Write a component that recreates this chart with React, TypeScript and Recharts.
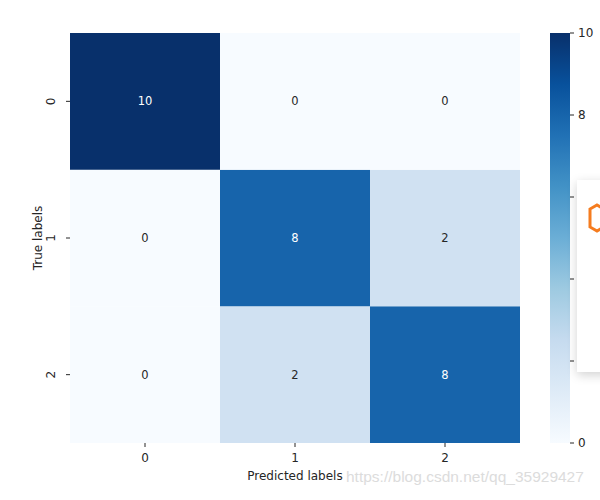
import { BarChart, Bar, XAxis, YAxis, Cell, LabelList } from 'recharts';

// confusion matrix, rows = true label, cols = predicted label
const predictedLabels = ['0', '1', '2'];
const trueLabels = ['0', '1', '2'];
const row0 = [10, 0, 0];
const row1 = [0, 8, 2];
const row2 = [0, 2, 8];
const matrix = [row0, row1, row2];
const colorbarTicks = [0, 2, 4, 6, 8, 10];
const vmax = 10;

// matplotlib "Blues" colormap stops
const BLUES = ['#f7fbff', '#deebf7', '#c6dbef', '#9ecae1', '#6baed6', '#4292c6', '#2171b5', '#08519c', '#08306b'];

const hex = (h: string) => [1, 3, 5].map(i => parseInt(h.slice(i, i + 2), 16));

function blues(t: number) {
  const p = Math.max(0, Math.min(1, t)) * (BLUES.length - 1);
  const i = Math.min(Math.floor(p), BLUES.length - 2);
  const f = p - i;
  const a = hex(BLUES[i]);
  const b = hex(BLUES[i + 1]);
  const c = a.map((v, k) => Math.round(v + (b[k] - v) * f));
  return `rgb(${c[0]},${c[1]},${c[2]})`;
}

const FONT = '"DejaVu Sans", sans-serif';
const TEXT = '#262626';
const FS = 12;

// one stacked unit bar per cell; first stacked key sits at the bottom (true label 2)
const chartData = predictedLabels.map((p, c) => ({
  pred: p,
  r2: 1,
  r1: 1,
  r0: 1,
  v0: matrix[0][c],
  v1: matrix[1][c],
  v2: matrix[2][c],
}));

const rowKeys = [
  { key: 'r2', row: 2 },
  { key: 'r1', row: 1 },
  { key: 'r0', row: 0 },
];

const yTickValue = (v: number) => trueLabels[2 - Math.floor(v)];

const YTick = ({ x, y, payload }: any) => (
  <text
    x={x}
    y={y}
    transform={`rotate(-90 ${x} ${y})`}
    textAnchor="middle"
    fontSize={FS}
    fontFamily={FONT}
    fill={TEXT}
  >
    {yTickValue(payload.value)}
  </text>
);

const YLabel = ({ viewBox }: any) => {
  const x = viewBox.x + 22;
  const y = viewBox.y + viewBox.height / 2;
  return (
    <text x={x} y={y} transform={`rotate(-90 ${x} ${y})`} textAnchor="middle" fontSize={FS} fontFamily={FONT} fill={TEXT}>
      True labels
    </text>
  );
};

const XLabel = ({ viewBox }: any) => (
  <text x={viewBox.x + viewBox.width / 2} y={viewBox.y + 37} textAnchor="middle" fontSize={FS} fontFamily={FONT} fill={TEXT}>
    Predicted labels
  </text>
);

const makeCellLabel = (row: number) => (props: any) => {
  const { x, y, width, height, index } = props;
  const v = matrix[row][index];
  return (
    <text
      x={x + width / 2}
      y={y + height / 2}
      dy={4}
      textAnchor="middle"
      fontSize={11.5}
      fontFamily={FONT}
      fill={v / vmax > 0.5 ? '#ffffff' : TEXT}
    >
      {v}
    </text>
  );
};

export default function App() {
  return (
    <div style={{ position: 'absolute', left: 0, top: 0, width: 600, height: 500, background: '#fff', overflow: 'hidden' }}>
      <div style={{ position: 'absolute', left: 0, top: 0 }}>
        <BarChart
          width={520}
          height={500}
          data={chartData}
          margin={{ top: 33, right: 0, left: 20, bottom: 7 }}
          barCategoryGap={0}
        >
          <XAxis
            dataKey="pred"
            height={50}
            axisLine={false}
            tickSize={4}
            tickMargin={6}
            tickLine={{ stroke: TEXT }}
            tick={{ fontSize: FS, fontFamily: FONT, fill: TEXT }}
            label={<XLabel />}
          />
          <YAxis
            type="number"
            domain={[0, 3]}
            ticks={[0.5, 1.5, 2.5]}
            width={50}
            axisLine={false}
            tickSize={4}
            tickMargin={11}
            tickLine={{ stroke: TEXT }}
            tick={<YTick />}
            label={<YLabel />}
          />
          {rowKeys.map(({ key, row }) => (
            <Bar key={key} dataKey={key} stackId="m" isAnimationActive={false}>
              {chartData.map((_, c) => (
                <Cell key={c} fill={blues(matrix[row][c] / vmax)} />
              ))}
              <LabelList dataKey={key} content={makeCellLabel(row)} />
            </Bar>
          ))}
        </BarChart>
      </div>

      <div style={{ position: 'absolute', left: 550, top: 0 }}>
        <BarChart
          width={50}
          height={500}
          data={[{ name: 'cbar', v: vmax }]}
          margin={{ top: 33, right: 0, left: 0, bottom: 57 }}
          barCategoryGap={0}
        >
          <defs>
            <linearGradient id="cbar" x1="0" y1="1" x2="0" y2="0">
              {BLUES.map((c, i) => (
                <stop key={i} offset={i / (BLUES.length - 1)} stopColor={c} />
              ))}
            </linearGradient>
          </defs>
          <XAxis dataKey="name" hide />
          <YAxis
            orientation="right"
            type="number"
            domain={[0, vmax]}
            ticks={colorbarTicks}
            width={30}
            axisLine={false}
            tickSize={4}
            tickMargin={4}
            tickLine={{ stroke: TEXT }}
            tick={{ fontSize: FS, fontFamily: FONT, fill: TEXT, textAnchor: 'start' }}
          />
          <Bar dataKey="v" fill="url(#cbar)" isAnimationActive={false} />
        </BarChart>
      </div>

      {/* page popup overlapping the colorbar labels in the screenshot */}
      <div
        style={{
          position: 'absolute',
          left: 577,
          top: 180,
          width: 40,
          height: 192,
          background: '#fff',
          boxShadow: '0 3px 10px rgba(0,0,0,0.18)',
        }}
      >
        <svg width={40} height={192} style={{ position: 'absolute', left: 0, top: 0 }}>
          <polygon points="20,25 27,29 27,47 20,51 13,47 13,29" fill="none" stroke="#f57c1f" strokeWidth={3} />
        </svg>
      </div>

      <div
        style={{
          position: 'absolute',
          left: 346,
          top: 468,
          fontFamily: 'Arial, "Liberation Sans", sans-serif',
          fontSize: 15.5,
          color: '#dcdcdc',
          whiteSpace: 'nowrap',
        }}
      >
        https://blog.csdn.net/qq_35929427
      </div>
    </div>
  );
}
